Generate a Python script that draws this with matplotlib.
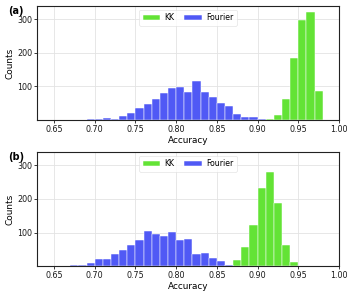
import matplotlib
matplotlib.use("Agg")
import matplotlib.pyplot as plt

# bin left edges (width 0.01) and counts
fourier_a_bins = [0.67, 0.68, 0.69, 0.70, 0.71, 0.72, 0.73, 0.74, 0.75, 0.76, 0.77,
                  0.78, 0.79, 0.80, 0.81, 0.82, 0.83, 0.84, 0.85, 0.86, 0.87, 0.88,
                  0.89, 0.90]
fourier_a = [1, 1, 2, 3, 5, 3, 11, 22, 36, 48, 62, 79, 96, 97, 83, 117, 82, 68,
             52, 42, 17, 8, 8, 2]
kk_a_bins = [0.91, 0.92, 0.93, 0.94, 0.95, 0.96, 0.97]
kk_a = [3, 16, 63, 186, 299, 322, 85]

fourier_b_bins = [0.66, 0.67, 0.68, 0.69, 0.70, 0.71, 0.72, 0.73, 0.74, 0.75, 0.76,
                  0.77, 0.78, 0.79, 0.80, 0.81, 0.82, 0.83, 0.84, 0.85, 0.86]
fourier_b = [1, 2, 4, 8, 21, 21, 37, 47, 63, 79, 106, 95, 91, 102, 77, 81, 36,
             38, 24, 14, 2]
kk_b_bins = [0.87, 0.88, 0.89, 0.90, 0.91, 0.92, 0.93, 0.94]
kk_b = [17, 56, 123, 234, 281, 187, 63, 11]

xticks = [0.65, 0.70, 0.75, 0.80, 0.85, 0.90, 0.95, 1.00]
yticks = [100, 200, 300]

green = "#63e335"
blue = "#5059f5"

plt.rcParams["font.family"] = "DejaVu Sans"
fig = plt.figure(figsize=(3.55, 2.94), dpi=100)
ax_a = fig.add_axes([0.104, 0.592, 0.851, 0.388])
ax_b = fig.add_axes([0.104, 0.095, 0.851, 0.388])

panels = [
    (ax_a, "(a)", kk_a_bins, kk_a, fourier_a_bins, fourier_a),
    (ax_b, "(b)", kk_b_bins, kk_b, fourier_b_bins, fourier_b),
]

for ax, tag, kb, kc, fb, fc in panels:
    ax.bar(kb, kc, width=0.01, align="edge", color=green, edgecolor="white",
           linewidth=0.35, label="KK", zorder=2)
    ax.bar(fb, fc, width=0.01, align="edge", color=blue, edgecolor="white",
           linewidth=0.35, label="Fourier", zorder=2)
    ax.set_xlim(0.629, 1.0)
    ax.set_ylim(0, 340)
    ax.set_xticks(xticks)
    ax.set_xticklabels([f"{t:.2f}" for t in xticks])
    ax.set_yticks(yticks)
    ax.tick_params(labelsize=5.8, length=2, width=0.6, pad=1.5, colors="#1a1a1a")
    ax.grid(True, color="#e3e3e3", linewidth=0.6, zorder=0)
    ax.set_axisbelow(True)
    for s in ax.spines.values():
        s.set_linewidth(0.8)
        s.set_color("#222222")
    ax.set_xlabel("Accuracy", fontsize=6.4, labelpad=1.5)
    ax.set_ylabel("Counts", fontsize=6.4, labelpad=2)
    leg = ax.legend(loc="upper center", ncol=2, fontsize=5.6, frameon=True,
                    handlelength=2.2, handleheight=0.5, columnspacing=1.3,
                    handletextpad=0.6, borderpad=0.45, bbox_to_anchor=(0.5, 1.0))
    leg.get_frame().set_edgecolor("#dddddd")
    leg.get_frame().set_linewidth(0.5)
    ax.text(-0.095, 1.0, tag, transform=ax.transAxes, fontsize=7,
            fontweight="bold", va="top", ha="left")

fig.savefig("out.png", dpi=100)
